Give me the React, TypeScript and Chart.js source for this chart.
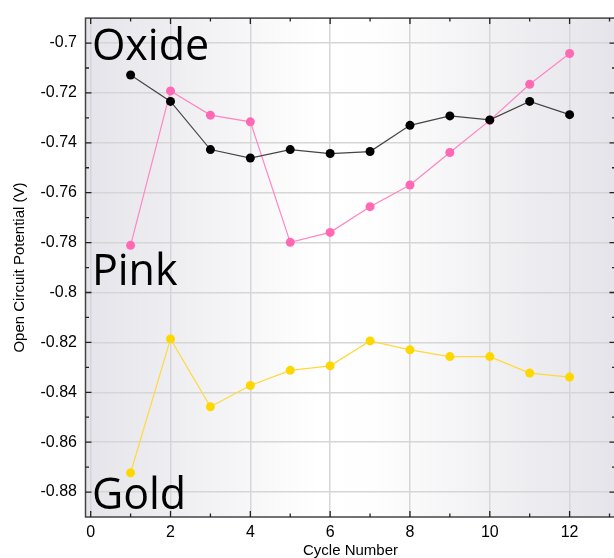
import React, { useEffect, useRef } from "react";
import { Chart, registerables } from "chart.js";

Chart.register(...registerables);

const cycles = [1, 2, 3, 4, 5, 6, 7, 8, 9, 10, 11, 12];
const oxide = [-0.7128, -0.7234, -0.7427, -0.7461, -0.7427, -0.7443, -0.7435, -0.733, -0.7292, -0.7308, -0.7234, -0.7287];
const pink = [-0.7811, -0.7192, -0.7289, -0.7316, -0.7799, -0.7759, -0.7656, -0.7569, -0.7439, -0.731, -0.7165, -0.7042];
const gold = [-0.8723, -0.8186, -0.8458, -0.8373, -0.8312, -0.8294, -0.8194, -0.823, -0.8257, -0.8257, -0.8323, -0.8339];

const xTickValues = [0, 2, 4, 6, 8, 10, 12];
const yTickValues = [-0.7, -0.72, -0.74, -0.76, -0.78, -0.8, -0.82, -0.84, -0.86, -0.88];

const labelNames = ["Oxide", "Pink", "Gold"];
const labelY = [-0.70685, -0.7968, -0.8868];
const labelX = 0.03;

const X_MIN = -0.13;
const X_MAX = 13.15;
const Y_MIN = -0.89;
const Y_MAX = -0.69;

const tickFont = { family: "'Liberation Sans', Arial, sans-serif", size: 16 };

const bgPlugin = {
  id: "bgGradient",
  beforeDraw(chart: any) {
    const { ctx, chartArea: a } = chart;
    const g = ctx.createLinearGradient(a.left, 0, a.right, 0);
    g.addColorStop(0, "#e4e4ea");
    g.addColorStop(0.44, "#ffffff");
    g.addColorStop(0.54, "#fefefe");
    g.addColorStop(1, "#e4e4ea");
    ctx.save();
    ctx.fillStyle = g;
    ctx.fillRect(a.left, a.top, a.right - a.left, a.bottom - a.top);
    ctx.restore();
  },
};

const framePlugin = {
  id: "frame",
  afterDatasetsDraw(chart: any) {
    const { ctx, chartArea: a, scales } = chart;
    const xs = scales.x;
    const ys = scales.y;
    ctx.save();
    // text annotations
    ctx.fillStyle = "#000";
    ctx.font = "43px 'Open Sans', sans-serif";
    ctx.textAlign = "left";
    ctx.textBaseline = "alphabetic";
    labelNames.forEach((t, i) => {
      ctx.fillText(t, xs.getPixelForValue(labelX), ys.getPixelForValue(labelY[i]));
    });
    // frame
    ctx.strokeStyle = "#444";
    ctx.lineWidth = 1.5;
    ctx.strokeRect(a.left, a.top, a.right - a.left, a.bottom - a.top);
    // ticks
    ctx.strokeStyle = "#222";
    ctx.lineWidth = 1.3;
    const major = 6;
    const minor = 3.5;
    const xMinor: number[] = [];
    for (let i = 0; i < xTickValues.length; i++) {
      const v = xTickValues[i] + 1;
      if (v < X_MAX) xMinor.push(v);
    }
    const yMinor: number[] = [];
    for (let i = 0; i < yTickValues.length; i++) {
      const v = yTickValues[i] - 0.01;
      if (v > Y_MIN + 1e-6) yMinor.push(v);
    }
    ctx.beginPath();
    const xt = (v: number, len: number) => {
      const px = xs.getPixelForValue(v);
      ctx.moveTo(px, a.bottom);
      ctx.lineTo(px, a.bottom - len);
      ctx.moveTo(px, a.top);
      ctx.lineTo(px, a.top + len);
    };
    const yt = (v: number, len: number) => {
      const py = ys.getPixelForValue(v);
      ctx.moveTo(a.left, py);
      ctx.lineTo(a.left + len, py);
      ctx.moveTo(a.right, py);
      ctx.lineTo(a.right - len, py);
    };
    xTickValues.forEach((v) => xt(v, major));
    xMinor.forEach((v) => xt(v, minor));
    yTickValues.forEach((v) => yt(v, major));
    yMinor.forEach((v) => yt(v, minor));
    ctx.stroke();
    ctx.restore();
  },
};

export default function App() {
  const ref = useRef<HTMLCanvasElement | null>(null);

  useEffect(() => {
    if (!ref.current) return;
    const mk = (vals: number[]) => cycles.map((c, i) => ({ x: c, y: vals[i] }));
    const chart = new Chart(ref.current, {
      type: "line",
      data: {
        datasets: [
          {
            label: "Oxide",
            data: mk(oxide),
            borderColor: "#454545",
            backgroundColor: "#000000",
            pointBackgroundColor: "#000000",
            pointBorderWidth: 0,
            pointRadius: 4.5,
            borderWidth: 1.2,
            tension: 0,
          },
          {
            label: "Pink",
            data: mk(pink),
            borderColor: "#ff85c4",
            backgroundColor: "#ff69b4",
            pointBackgroundColor: "#ff69b4",
            pointBorderWidth: 0,
            pointRadius: 4.5,
            borderWidth: 1.2,
            tension: 0,
          },
          {
            label: "Gold",
            data: mk(gold),
            borderColor: "#ffd83a",
            backgroundColor: "#ffd700",
            pointBackgroundColor: "#ffd700",
            pointBorderWidth: 0,
            pointRadius: 4.5,
            borderWidth: 1.2,
            tension: 0,
          },
        ],
      },
      options: {
        responsive: false,
        animation: false,
        devicePixelRatio: 1,
        layout: { padding: { top: 13, right: 3.5, left: 0, bottom: 0 } },
        plugins: { legend: { display: false }, tooltip: { enabled: false } },
        scales: {
          x: {
            type: "linear",
            min: X_MIN,
            max: X_MAX,
            afterBuildTicks: (s: any) => {
              s.ticks = xTickValues.map((v) => ({ value: v }));
            },
            afterFit: (s: any) => {
              s.height = 41;
            },
            ticks: {
              autoSkip: false,
              maxRotation: 0,
              color: "#000",
              font: tickFont,
              padding: 6,
              callback: (v: any) => String(v),
            },
            grid: { color: "#d6d6d6", lineWidth: 1.5, drawTicks: false },
            border: { display: false },
            title: {
              display: true,
              text: "Cycle Number",
              color: "#000",
              font: { family: "'Liberation Sans', Arial, sans-serif", size: 15, lineHeight: 1 },
              padding: { top: 0, bottom: 0 },
            },
          },
          y: {
            type: "linear",
            min: Y_MIN,
            max: Y_MAX,
            afterBuildTicks: (s: any) => {
              s.ticks = yTickValues.map((v) => ({ value: v }));
            },
            afterFit: (s: any) => {
              s.width = 85.5;
            },
            ticks: {
              autoSkip: false,
              color: "#000",
              font: tickFont,
              padding: 8.5,
              callback: (v: any) => String(parseFloat(Number(v).toFixed(2))),
            },
            grid: { color: "#d6d6d6", lineWidth: 1.5, drawTicks: false },
            border: { display: false },
            title: {
              display: true,
              text: "Open Circuit Potential (V)",
              color: "#000",
              font: { family: "'Liberation Sans', Arial, sans-serif", size: 15, lineHeight: 1 },
              padding: { top: 12.5, bottom: 0 },
            },
          },
        },
      },
      plugins: [bgPlugin, framePlugin],
    } as any);
    return () => chart.destroy();
  }, []);

  return (
    <div
      style={{
        position: "fixed",
        left: 0,
        top: 0,
        width: 614,
        height: 558,
        overflow: "hidden",
        background: "#fff",
      }}
    >
      <canvas ref={ref} width={620} height={558} style={{ display: "block", width: 620, height: 558 }} />
    </div>
  );
}
